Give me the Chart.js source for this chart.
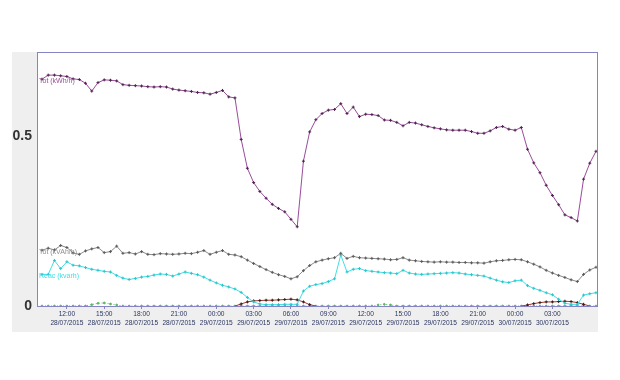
<!DOCTYPE html>
<html>
<head>
<meta charset="utf-8">
<script src="https://cdn.jsdelivr.net/npm/chart.js@4"></script>
<style>
  body { margin: 0; background: #fff; }
  #wrap { width: 620px; height: 380px; }
</style>
</head>
<body>
<div id="wrap"><canvas id="loadChart"></canvas></div>
<script>
// samples every 30 min, first one at 28/07/2015 10:00 (hours counted from 28/07 00:00)
const startHour = 10;
const stepHour = 0.5;

const totalActive = [
  0.667, 0.679, 0.679, 0.677, 0.675, 0.668, 0.666, 0.655, 0.632, 0.657,
  0.665, 0.664, 0.662, 0.651, 0.649, 0.648, 0.647, 0.645, 0.644, 0.645,
  0.644, 0.638, 0.635, 0.633, 0.631, 0.628, 0.627, 0.623, 0.628, 0.634,
  0.615, 0.612, 0.490, 0.405, 0.363, 0.337, 0.317, 0.299, 0.287, 0.277,
  0.255, 0.233, 0.426, 0.512, 0.548, 0.566, 0.576, 0.578, 0.595, 0.566,
  0.585, 0.557, 0.564, 0.563, 0.560, 0.547, 0.546, 0.540, 0.530, 0.540,
  0.538, 0.533, 0.528, 0.524, 0.521, 0.518, 0.517, 0.517, 0.517, 0.513,
  0.508, 0.508, 0.515, 0.525, 0.528, 0.520, 0.517, 0.525, 0.461, 0.421,
  0.392, 0.355, 0.325, 0.298, 0.268, 0.260, 0.250, 0.373, 0.420, 0.455
];

const totalApparent = [
  0.164, 0.170, 0.165, 0.178, 0.172, 0.156, 0.152, 0.162, 0.168, 0.172,
  0.157, 0.160, 0.176, 0.155, 0.157, 0.153, 0.160, 0.152, 0.151, 0.154,
  0.153, 0.152, 0.153, 0.155, 0.154, 0.158, 0.163, 0.152, 0.158, 0.163,
  0.152, 0.150, 0.145, 0.135, 0.125, 0.116, 0.107, 0.099, 0.092, 0.087,
  0.080, 0.086, 0.104, 0.119, 0.130, 0.135, 0.139, 0.142, 0.155, 0.140,
  0.146, 0.142, 0.141, 0.140, 0.139, 0.138, 0.136, 0.137, 0.142, 0.135,
  0.133, 0.131, 0.130, 0.129, 0.130, 0.129, 0.129, 0.128, 0.128, 0.127,
  0.127, 0.126, 0.130, 0.133, 0.134, 0.136, 0.137, 0.136, 0.130, 0.123,
  0.115, 0.105, 0.097, 0.090, 0.084, 0.077, 0.072, 0.093, 0.106, 0.114
];

const reactive = [
  0.093, 0.093, 0.134, 0.110, 0.130, 0.120, 0.118, 0.113, 0.108, 0.105,
  0.102, 0.100, 0.090, 0.082, 0.078, 0.081, 0.085, 0.087, 0.091, 0.094,
  0.093, 0.088, 0.094, 0.100, 0.096, 0.092, 0.085, 0.076, 0.068, 0.061,
  0.056, 0.050, 0.040, 0.025, 0.012, 0.006, 0.004, 0.004, 0.004, 0.005,
  0.005, 0.005, 0.044, 0.058, 0.063, 0.066, 0.072, 0.080, 0.150, 0.100,
  0.108, 0.110, 0.104, 0.102, 0.100, 0.098, 0.097, 0.095, 0.105, 0.097,
  0.094, 0.093, 0.094, 0.095, 0.096, 0.097, 0.098, 0.097, 0.094, 0.092,
  0.090, 0.088, 0.082, 0.076, 0.071, 0.069, 0.074, 0.076, 0.060, 0.052,
  0.046, 0.039, 0.033, 0.020, 0.008, 0.005, 0.005, 0.032, 0.036, 0.039
];

const nightLoad = [
  0, 0, 0, 0, 0, 0, 0, 0, 0, 0,
  0, 0, 0, 0, 0, 0, 0, 0, 0, 0,
  0, 0, 0, 0, 0, 0, 0, 0, 0, 0,
  0, 0, 0.006, 0.012, 0.015, 0.016, 0.017, 0.017, 0.018, 0.019,
  0.020, 0.018, 0.012, 0.004, 0, 0, 0, 0, 0, 0,
  0, 0, 0, 0, 0, 0, 0, 0, 0, 0,
  0, 0, 0, 0, 0, 0, 0, 0, 0, 0,
  0, 0, 0, 0, 0, 0, 0, 0, 0.003, 0.007,
  0.010, 0.012, 0.012, 0.013, 0.014, 0.013, 0.010, 0.005, 0, 0
];

const auxLoad = [
  0, 0, 0, 0, 0, 0, 0, 0, 0.004, 0.008,
  0.009, 0.006, 0.003, 0, 0, 0, 0, 0, 0, 0,
  0, 0, 0, 0, 0, 0, 0, 0, 0, 0,
  0, 0, 0, 0, 0, 0, 0, 0, 0, 0,
  0, 0, 0, 0, 0, 0, 0, 0, 0, 0,
  0, 0, 0, 0, 0.003, 0.005, 0.003, 0, 0, 0,
  0, 0, 0, 0, 0, 0, 0, 0, 0, 0,
  0, 0, 0, 0, 0, 0, 0, 0, 0, 0,
  0, 0, 0, 0, 0, 0, 0, 0, 0, 0
];

const seriesNames = ["Tot (kWh/h)", "Tot (kVAh/h)", "Reac (kvarh)", "Night", "Aux"];

const tickHours = [12, 15, 18, 21, 24, 27, 30, 33, 36, 39, 42, 45, 48, 51];
const tickLabels = [
  ["12:00", "28/07/2015"], ["15:00", "28/07/2015"], ["18:00", "28/07/2015"],
  ["21:00", "28/07/2015"], ["00:00", "29/07/2015"], ["03:00", "29/07/2015"],
  ["06:00", "29/07/2015"], ["09:00", "29/07/2015"], ["12:00", "29/07/2015"],
  ["15:00", "29/07/2015"], ["18:00", "29/07/2015"], ["21:00", "29/07/2015"],
  ["00:00", "30/07/2015"], ["03:00", "30/07/2015"]
];
const yTicks = [0, 0.5];

function toPoints(values) {
  return values.map((v, i) => ({ x: startHour + i * stepHour, y: v }));
}

// grey panel, white plot area, frame
const panelPlugin = {
  id: "panel",
  beforeDraw(chart) {
    const { ctx, chartArea: a } = chart;
    ctx.save();
    ctx.fillStyle = "#efefef";
    ctx.fillRect(12, a.top, a.right + 1 - 12, 332 - a.top);
    ctx.fillStyle = "#ffffff";
    ctx.fillRect(a.left, a.top, a.right - a.left, a.bottom - a.top);
    ctx.restore();
  },
  afterDatasetsDraw(chart) {
    const { ctx, chartArea: a } = chart;
    ctx.save();
    ctx.strokeStyle = "#8585c6";
    ctx.lineWidth = 1;
    ctx.strokeRect(a.left + 0.5, a.top + 0.5, a.right - a.left, a.bottom - a.top);
    // small series captions at the start of each line
    ctx.font = "7px 'Liberation Sans', Arial, sans-serif";
    ctx.textBaseline = "middle";
    [0, 1, 2].forEach(i => {
      const p = chart.getDatasetMeta(i).data[0];
      ctx.fillStyle = chart.data.datasets[i].borderColor;
      ctx.fillText(chart.data.datasets[i].label, a.left + 2, p.y + 2);
    });
    ctx.restore();
  }
};

function lineSet(label, values, color, pointColor, extra) {
  return Object.assign({
    label: label,
    data: toPoints(values),
    borderColor: color,
    borderWidth: 1,
    pointStyle: "cross",
    pointRadius: 1.5,
    pointBorderWidth: 1,
    pointBorderColor: pointColor,
    pointBackgroundColor: pointColor,
    tension: 0,
    fill: false
  }, extra || {});
}

const hideFlat = c => (c.p0.parsed.y === 0 && c.p1.parsed.y === 0) ? "rgba(0,0,0,0)" : undefined;

new Chart(document.getElementById("loadChart"), {
  type: "line",
  data: {
    datasets: [
      lineSet(seriesNames[0], totalActive, "#9a4c9a", "#4e2250"),
      lineSet(seriesNames[1], totalApparent, "#8c8c8c", "#5a5a5a"),
      lineSet(seriesNames[2], reactive, "#3fe0e6", "#2cc4cc"),
      lineSet(seriesNames[3], nightLoad, "#a83a2a", "#3a1a1a", {
        pointRadius: c => (c.raw && c.raw.y > 0 ? 1.5 : 0),
        segment: { borderColor: hideFlat }
      }),
      lineSet(seriesNames[4], auxLoad, "#5cb85c", "#5cb85c",
        { borderDash: [1, 2], pointStyle: "circle", pointRadius: 0.9 })
    ]
  },
  options: {
    responsive: true,
    maintainAspectRatio: false,
    animation: false,
    layout: { padding: { left: 12, right: 23, top: 52, bottom: 48 } },
    plugins: {
      legend: { display: false },
      tooltip: { enabled: false }
    },
    scales: {
      x: {
        type: "linear",
        min: 9.6,
        max: 54.58,
        afterBuildTicks: axis => { axis.ticks = tickHours.map(v => ({ value: v })); },
        afterFit: axis => { axis.height = 26; },
        border: { display: false },
        grid: { drawOnChartArea: false, drawTicks: true, tickLength: 3, color: "#8585c6" },
        ticks: {
          padding: 1,
          maxRotation: 0,
          autoSkip: false,
          color: "#2a3560",
          font: { family: "'Liberation Sans', Arial, sans-serif", size: 6.6, lineHeight: 1.35 },
          callback: v => tickLabels[tickHours.indexOf(v)]
        }
      },
      y: {
        min: 0,
        max: 0.747,
        afterBuildTicks: axis => { axis.ticks = yTicks.map(v => ({ value: v })); },
        afterFit: axis => { axis.width = 25; },
        border: { display: false },
        grid: { display: false, drawTicks: false },
        ticks: {
          padding: 5,
          color: "#333333",
          font: { family: "'Liberation Sans', Arial, sans-serif", size: 14, weight: "bold" },
          callback: v => String(v)
        }
      }
    }
  },
  plugins: [panelPlugin]
});
</script>
</body>
</html>
